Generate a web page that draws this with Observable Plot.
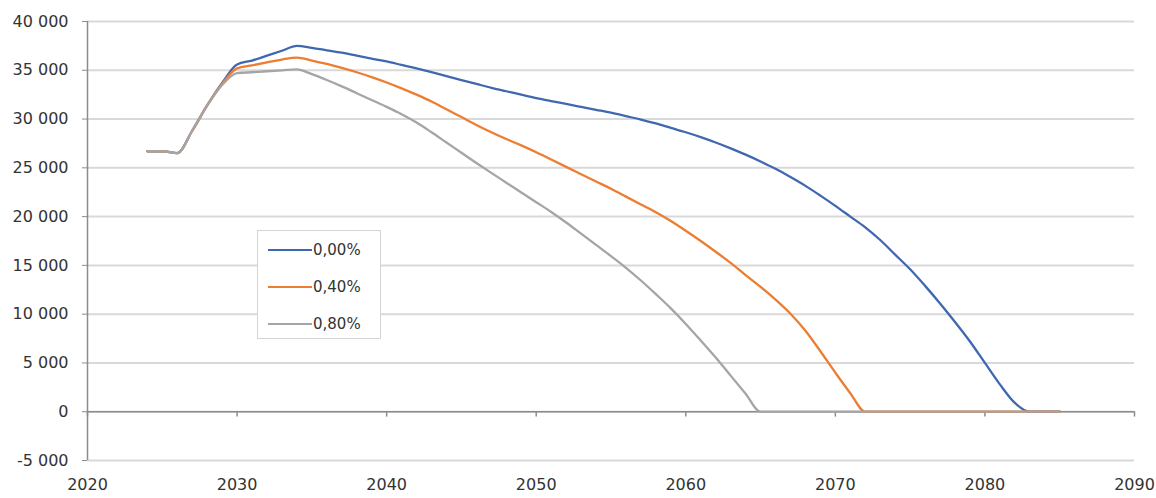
<!DOCTYPE html>
<html>
<head>
<meta charset="utf-8">
<script src="https://cdn.jsdelivr.net/npm/d3@7"></script>
<script src="https://cdn.jsdelivr.net/npm/@observablehq/plot@0.6"></script>
<style>
  html, body { margin: 0; padding: 0; background: #fff; }
  #wrap { position: relative; width: 1156px; height: 498px; font-family: "DejaVu Sans", Verdana, sans-serif; }
  #legend { position: absolute; left: 257px; top: 230px; width: 124px; height: 109px; border: 1px solid #d4d4d4; background: #fff; box-sizing: border-box; }
  .item { position: absolute; left: 10px; height: 20px; display: flex; align-items: center; font-size: 15px; color: #333; }
  .swatch { width: 44px; height: 2px; margin-right: 1px; }
</style>
</head>
<body>
<div id="wrap"></div>
<script>
const years = [2024,2025,2026,2027,2028,2029,2030,2031,2032,2033,2034,2035,2036,2037,2038,2039,2040,2041,2042,2043,2044,2045,2046,2047,2048,2049,2050,2051,2052,2053,2054,2055,2056,2057,2058,2059,2060,2061,2062,2063,2064,2065,2066,2067,2068,2069,2070,2071,2072,2073,2074,2075,2076,2077,2078,2079,2080,2081,2082,2083,2084,2085];

const seriesNames = ["0,00%", "0,40%", "0,80%"];
const seriesColors = ["#4068b0", "#ed7d31", "#a5a5a5"];

const values000 = [26700,26700,26500,28800,31400,33700,35600,36000,36500,37000,37500,37300,37050,36800,36500,36200,35900,35550,35200,34800,34400,34000,33600,33200,32850,32500,32150,31850,31550,31250,30950,30650,30300,29950,29550,29100,28650,28150,27600,27000,26350,25650,24900,24050,23150,22150,21100,20000,18900,17600,16100,14600,12900,11100,9200,7200,5000,2800,900,0,0,0];
const values040 = [26700,26700,26500,28800,31400,33600,35200,35500,35800,36100,36300,36000,35650,35250,34800,34300,33750,33150,32500,31800,31000,30200,29400,28650,27950,27300,26600,25850,25100,24350,23600,22850,22050,21250,20450,19550,18550,17500,16400,15250,14000,12800,11500,10050,8300,6200,4000,1900,0,0,0,0,0,0,0,0,0,0,0,0,0,0];
const values080 = [26700,26700,26500,28800,31400,33500,34700,34800,34900,35000,35100,34600,34000,33350,32650,31950,31250,30500,29650,28650,27600,26550,25500,24480,23480,22480,21480,20480,19400,18250,17100,15950,14750,13450,12050,10600,9000,7300,5550,3700,1850,0,0,0,0,0,0,0,0,0,0,0,0,0,0,0,0,0,0,0,0,0];

const xTicks = [2020,2030,2040,2050,2060,2070,2080,2090];
const yTicks = [-5000,0,5000,10000,15000,20000,25000,30000,35000,40000];

const allValues = [values000, values040, values080];
const data = [];
allValues.forEach((vals, i) => {
  vals.forEach((v, j) => data.push({year: years[j], value: v, series: seriesNames[i]}));
});

const loc = d3.formatLocale({decimal: ",", thousands: "\u00a0", grouping: [3], currency: ["", ""], minus: "-"});
const fmt = loc.format(",d");

const chart = Plot.plot({
  width: 1156,
  height: 498,
  marginLeft: 87,
  marginRight: 22,
  marginTop: 21,
  marginBottom: 38,
  style: {fontFamily: "DejaVu Sans, Verdana, sans-serif", fontSize: "16px", color: "#333", background: "#fff"},
  x: {domain: [2020, 2090], label: null},
  y: {domain: [-5000, 40000], label: null},
  color: {domain: seriesNames, range: seriesColors},
  marks: [
    Plot.gridY(yTicks, {stroke: "#d9d9d9", strokeOpacity: 1, strokeWidth: 2}),
    Plot.ruleX([2020], {stroke: "#8c8c8c", strokeWidth: 1.5}),
    Plot.ruleY([0], {stroke: "#8c8c8c", strokeWidth: 1.5}),
    Plot.ruleX(xTicks, {x: d => d, y1: 0, y2: -550, stroke: "#8c8c8c", strokeWidth: 1.5}),
    Plot.axisY(yTicks, {label: null, tickFormat: fmt, tickSize: 5, tickPadding: 14, stroke: "#8c8c8c", fontSize: 16, fill: "#333"}),
    Plot.axisX(xTicks, {label: null, anchor: "bottom", tickFormat: d => String(d), tickSize: 0, tickPadding: 18, fontSize: 16, fill: "#333"}),
    Plot.line(data, {x: "year", y: "value", z: "series", stroke: "series", strokeWidth: 2.3, curve: "monotone-x"})
  ]
});

const wrap = document.getElementById("wrap");
wrap.appendChild(chart);

const legend = document.createElement("div");
legend.id = "legend";
seriesNames.forEach((name, i) => {
  const item = document.createElement("div");
  item.className = "item";
  item.style.top = (9 + i * 37) + "px";
  const sw = document.createElement("span");
  sw.className = "swatch";
  sw.style.background = seriesColors[i];
  const tx = document.createElement("span");
  tx.textContent = name;
  item.appendChild(sw);
  item.appendChild(tx);
  legend.appendChild(item);
});
wrap.appendChild(legend);
</script>
</body>
</html>
